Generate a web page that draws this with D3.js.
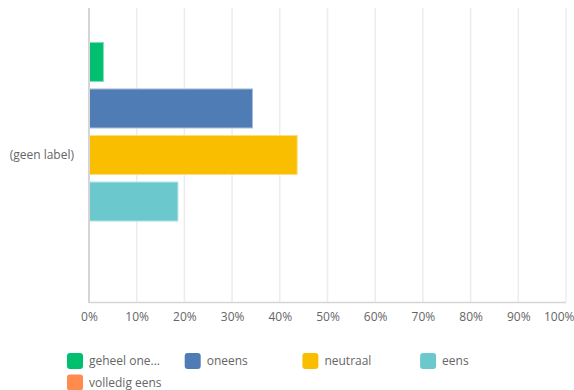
<!DOCTYPE html>
<html>
<head>
<meta charset="utf-8">
<script src="https://cdn.jsdelivr.net/npm/d3@7"></script>
<style>
  body { margin: 0; background: #fff; }
  text { font-family: "Open Sans", sans-serif; fill: #666; }
</style>
</head>
<body>
<svg width="574" height="390"></svg>
<script>
// answer options, share of respondents (%)
var series = ["geheel oneens", "oneens", "neutraal", "eens", "volledig eens"];
var legendLabels = ["geheel one...", "oneens", "neutraal", "eens", "volledig eens"];
var values = [3.125, 34.375, 43.75, 18.75, 0];
var colors = ["#00bf6f", "#507cb6", "#f9be00", "#6bc8cd", "#ff8b4f"];
var strokes = ["#7fdfb7", "#a7bdda", "#fcde7f", "#b5e3e6", "#ffc5a7"];
var categories = ["(geen label)"];
var ticks = [0, 10, 20, 30, 40, 50, 60, 70, 80, 90, 100];

var svg = d3.select("svg");
var plotLeft = 89, plotRight = 566, plotTop = 8, plotBottom = 302;

var x = d3.scaleLinear().domain([0, 100]).range([plotLeft, plotRight]);
var y = d3.scaleBand().domain(categories).range([plotTop, plotBottom]).paddingInner(0).paddingOuter(0.15);
var y2 = d3.scaleBand().domain(series).range([0, y.bandwidth()]).paddingInner(0.14).paddingOuter(0);

// grid lines
svg.append("g")
  .selectAll("line")
  .data(ticks.slice(1))
  .enter().append("line")
  .attr("x1", function (d) { return x(d); })
  .attr("x2", function (d) { return x(d); })
  .attr("y1", plotTop)
  .attr("y2", plotBottom)
  .attr("stroke", "#ececec")
  .attr("stroke-width", 1.5);

// bars
var g = svg.append("g")
  .attr("transform", "translate(0," + y(categories[0]) + ")");

g.selectAll("rect")
  .data(values)
  .enter().append("rect")
  .attr("x", x(0) + 0.5)
  .attr("y", function (d, i) { return y2(series[i]) + 0.5; })
  .attr("width", function (d) { return Math.max(0, x(d) - x(0) - 1); })
  .attr("height", y2.bandwidth() - 1)
  .attr("fill", function (d, i) { return colors[i]; })
  .attr("stroke", function (d, i) { return d > 0 ? strokes[i] : "none"; })
  .attr("stroke-width", 1);

// axes lines
svg.append("line")
  .attr("x1", plotLeft).attr("x2", plotLeft)
  .attr("y1", plotTop).attr("y2", plotBottom + 1)
  .attr("stroke", "#d5d5d5").attr("stroke-width", 2);
svg.append("line")
  .attr("x1", plotLeft).attr("x2", plotRight)
  .attr("y1", plotBottom + 0.5).attr("y2", plotBottom + 0.5)
  .attr("stroke", "#d5d5d5").attr("stroke-width", 1.5);

// x tick labels
var xAxis = d3.axisBottom(x)
  .tickValues(ticks)
  .tickSize(0)
  .tickPadding(10)
  .tickFormat(function (d) { return d + "%"; });
var ax = svg.append("g")
  .attr("transform", "translate(0," + plotBottom + ")")
  .call(xAxis);
ax.select(".domain").remove();
ax.selectAll("text")
  .style("font-family", "Open Sans, sans-serif")
  .style("font-size", "12px")
  .attr("fill", "#666");
ax.selectAll(".tick").filter(function (d) { return d === 100; })
  .select("text")
  .attr("text-anchor", "end")
  .attr("x", 8);

// y label
var yAxis = d3.axisLeft(y).tickSize(0).tickPadding(15);
var ay = svg.append("g")
  .attr("transform", "translate(" + plotLeft + ",0)")
  .call(yAxis);
ay.select(".domain").remove();
ay.selectAll("text")
  .style("font-family", "Open Sans, sans-serif")
  .style("font-size", "12px")
  .attr("fill", "#666");

// legend
var legend = svg.append("g");
var item = legend.selectAll("g")
  .data(legendLabels)
  .enter().append("g")
  .attr("transform", function (d, i) {
    return "translate(" + (67 + (i % 4) * 117.7) + "," + (353 + Math.floor(i / 4) * 21.5) + ")";
  });
item.append("rect")
  .attr("width", 16).attr("height", 16)
  .attr("rx", 3)
  .attr("fill", function (d, i) { return colors[i]; });
item.append("text")
  .attr("x", 22)
  .attr("y", 8)
  .attr("dy", "0.35em")
  .style("font-size", "12px")
  .text(function (d) { return d; });
</script>
</body>
</html>
